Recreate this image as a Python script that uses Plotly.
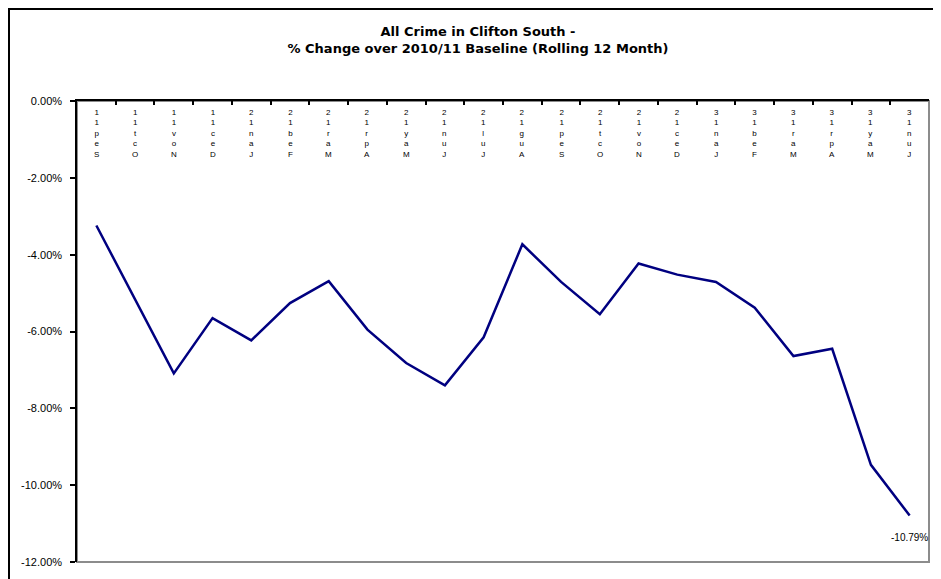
import plotly.graph_objects as go

months = ["Sep-11", "Oct-11", "Nov-11", "Dec-11", "Jan-12", "Feb-12", "Mar-12",
          "Apr-12", "May-12", "Jun-12", "Jul-12", "Aug-12", "Sep-12", "Oct-12",
          "Nov-12", "Dec-12", "Jan-13", "Feb-13", "Mar-13", "Apr-13", "May-13", "Jun-13"]
pct_change = [-3.24, -5.16, -7.09, -5.65, -6.23, -5.26, -4.69, -5.95, -6.82, -7.40,
              -6.15, -3.73, -4.71, -5.55, -4.23, -4.52, -4.71, -5.38, -6.64, -6.45,
              -9.47, -10.79]
y_ticks = [0, -2, -4, -6, -8, -10, -12]
title_lines = ["All Crime in Clifton South -", "% Change over 2010/11 Baseline (Rolling 12 Month)"]

FONT = "Liberation Sans, Arial, sans-serif"
TITLE_FONT = "DejaVu Sans, Liberation Sans, sans-serif"

W, H = 941, 579
ML, MR, MT, MB = 69, 20, 93, 25
PW, PH = W - ML - MR, H - MT - MB

fig = go.Figure()
fig.add_trace(go.Scatter(
    x=months, y=pct_change, mode="lines",
    line=dict(color="#000080", width=2.5),
    hoverinfo="x+y", showlegend=False,
))

annotations = []
# stacked (upright, reversed) category labels as in the original rendering
for m in months:
    chars = [c for c in reversed(m) if c != "-"]
    annotations.append(dict(
        x=m, y=1, xref="x", yref="paper", text="<br>".join(chars), showarrow=False,
        yanchor="top", xanchor="center", yshift=-5,
        font=dict(family=FONT, size=8, color="black"),
    ))
# data label on last point
annotations.append(dict(
    x=months[-1], y=pct_change[-1], xref="x", yref="y",
    text=f"{pct_change[-1]:.2f}%", showarrow=False, yanchor="top",
    xanchor="center", yshift=-14,
    font=dict(family=FONT, size=10, color="black"),
))

fig.update_layout(
    width=W, height=H,
    margin=dict(l=ML, r=MR, t=MT, b=MB),
    paper_bgcolor="white", plot_bgcolor="white",
    font=dict(family=FONT, color="black"),
    title=dict(
        text="<br>".join(title_lines),
        x=470 / W, xref="container", xanchor="center",
        y=1 - 28 / H, yref="container", yanchor="top",
        font=dict(family=TITLE_FONT, size=13, color="black", weight="bold"),
    ),
    annotations=annotations,
    shapes=[
        dict(type="rect", xref="paper", yref="paper", x0=0, x1=1, y0=0, y1=1,
             line=dict(color="#8c8c8c", width=2), layer="below"),
        dict(type="rect", xref="paper", yref="paper",
             x0=(1 - ML) / PW, x1=(W - 1 - ML) / PW,
             y0=-(H - 1 - MT - PH) / PH, y1=1 + (MT - 1) / PH,
             line=dict(color="black", width=2), layer="below"),
    ],
)

fig.update_xaxes(
    type="category", side="top", showgrid=False, zeroline=False,
    showline=True, linecolor="black", linewidth=2,
    ticks="inside", ticklen=4, tickcolor="black", tickwidth=1.5,
    tickson="boundaries", showticklabels=False,
    range=[-0.5, len(months) - 0.5],
)
fig.update_yaxes(
    range=[-12, 0], tickvals=y_ticks,
    ticktext=[f"{v:.2f}%" for v in y_ticks],
    showgrid=False, zeroline=False,
    showline=True, linecolor="black", linewidth=1.5,
    ticks="outside", ticklen=5, tickcolor="black", tickwidth=1.5,
    ticklabelstandoff=6,
    tickfont=dict(family=FONT, size=11, color="black"),
)

fig.write_html("out.html")
